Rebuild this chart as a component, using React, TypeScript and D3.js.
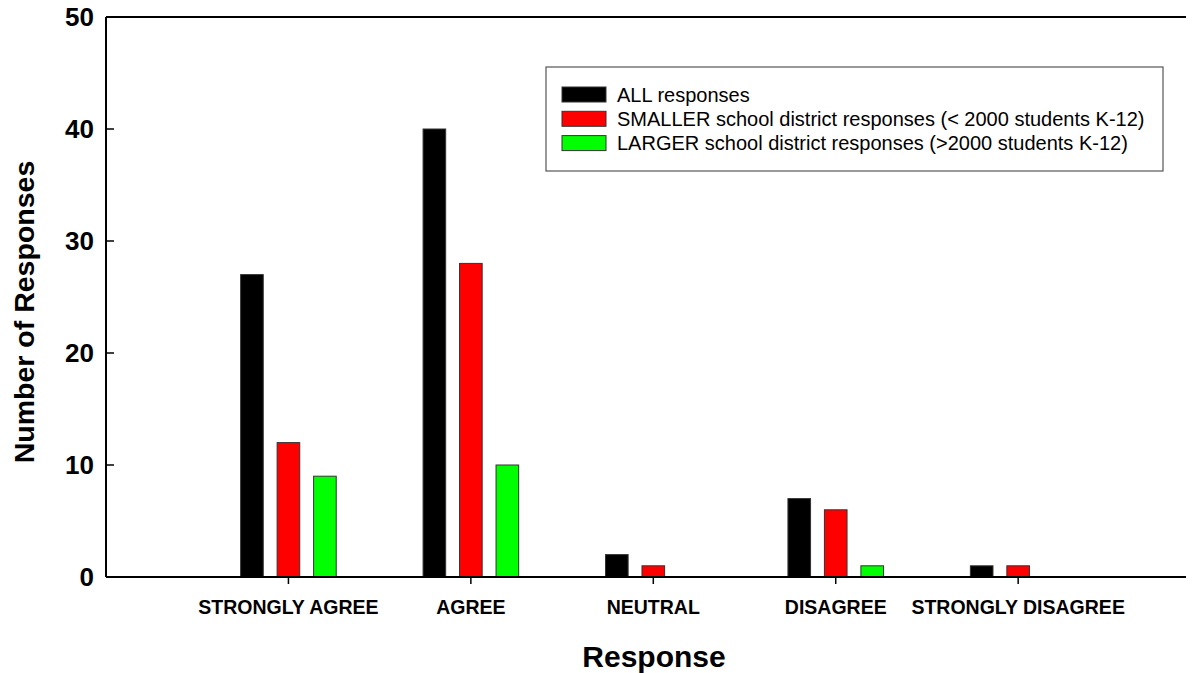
import React from "react";
import * as d3 from "d3";

const categories = ["STRONGLY AGREE", "AGREE", "NEUTRAL", "DISAGREE", "STRONGLY DISAGREE"];
const allResponses = [27, 40, 2, 7, 1];
const smallerResponses = [12, 28, 1, 6, 1];
const largerResponses = [9, 10, 0, 1, 0];
const yTicks = [0, 10, 20, 30, 40, 50];
const seriesNames = [
  "ALL responses",
  "SMALLER school district responses (< 2000 students K-12)",
  "LARGER school district responses (>2000 students K-12)",
];
const seriesColors = ["#000000", "#ff0000", "#00ff00"];

const W = 1196;
const H = 673;
const FONT = "'Liberation Sans', Arial, Helvetica, sans-serif";

export default function App() {
  const left = 106;
  const right = 1186;
  const top = 17;
  const bottom = 577;
  const x = d3.scaleLinear().domain([0, 5.92]).range([left, right]);
  const y = d3.scaleLinear().domain([0, 50]).range([bottom, top]);
  const series = [allResponses, smallerResponses, largerResponses];
  const offsets = [-0.2, 0, 0.2];
  const bw = 0.124;

  return (
    <svg
      width={W}
      height={H}
      style={{ position: "absolute", left: 0, top: 0, background: "#fff" }}
      fontFamily={FONT}
    >
      <rect x={0} y={0} width={W} height={H} fill="#fff" />
      {/* bars */}
      {series.map((vals, si) =>
        vals.map((v, ci) =>
          v > 0 ? (
            <rect
              key={`b-${si}-${ci}`}
              x={x(ci + 1 + offsets[si] - bw / 2)}
              y={y(v)}
              width={x(bw) - x(0)}
              height={y(0) - y(v)}
              fill={seriesColors[si]}
              stroke="#333"
              strokeWidth={1}
            />
          ) : null
        )
      )}
      {/* axes frame */}
      <line x1={left} x2={left} y1={top} y2={bottom} stroke="#000" strokeWidth={2} />
      <line x1={left} x2={right} y1={top} y2={top} stroke="#000" strokeWidth={2} />
      <line x1={left} x2={right} y1={bottom} y2={bottom} stroke="#000" strokeWidth={2} />
      {/* y ticks */}
      {yTicks.map((t) => (
        <g key={`yt-${t}`}>
          <line x1={left} x2={left + 8} y1={y(t)} y2={y(t)} stroke="#000" strokeWidth={1.5} />
          <text
            x={94}
            y={y(t)}
            dy="0.36em"
            textAnchor="end"
            fontSize={26}
            fontWeight="bold"
          >
            {t}
          </text>
        </g>
      ))}
      {/* x ticks */}
      {categories.map((c, i) => (
        <g key={`xt-${i}`}>
          <line x1={x(i + 1)} x2={x(i + 1)} y1={bottom} y2={bottom + 7} stroke="#000" strokeWidth={1.5} />
          <text x={x(i + 1)} y={614} textAnchor="middle" fontSize={19.5} fontWeight="bold">
            {c}
          </text>
        </g>
      ))}
      {/* axis titles */}
      <text x={654} y={667} textAnchor="middle" fontSize={30} fontWeight="bold">
        Response
      </text>
      <text
        transform={`translate(34, 312) rotate(-90)`}
        textAnchor="middle"
        fontSize={28.5}
        fontWeight="bold"
      >
        Number of Responses
      </text>
      {/* legend */}
      <rect x={546} y={67} width={617} height={104} fill="#fff" stroke="#555" strokeWidth={1.2} />
      {seriesNames.map((n, i) => {
        const cy = 94.5 + i * 24.3;
        return (
          <g key={`lg-${i}`}>
            <rect x={562} y={cy - 7.5} width={44} height={15} fill={seriesColors[i]} stroke="#333" strokeWidth={1} />
            <text x={617} y={cy} dy="0.35em" fontSize={20}>
              {n}
            </text>
          </g>
        );
      })}
    </svg>
  );
}
